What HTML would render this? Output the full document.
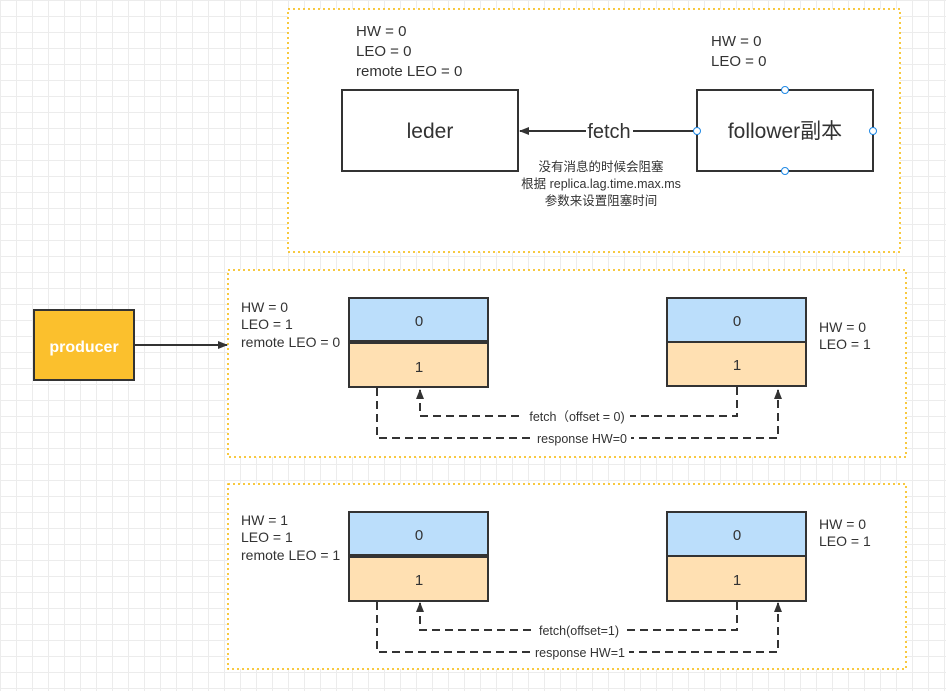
<!DOCTYPE html>
<html><head><meta charset="utf-8"><style>
html,body{margin:0;padding:0}
body{width:946px;height:691px;overflow:hidden;background-color:#fff;
background-image:linear-gradient(#ececec 1px,transparent 1px),linear-gradient(90deg,#ececec 1px,transparent 1px);
background-size:16px 16px;background-position:0 0;font-family:"Liberation Sans","Noto Sans CJK SC",sans-serif}
svg{position:absolute;left:0;top:0}
text{font-family:"Liberation Sans","Noto Sans CJK SC",sans-serif;fill:#333}
</style></head><body>
<svg width="946" height="691" viewBox="0 0 946 691">
<defs><marker id="a" markerWidth="10" markerHeight="10" refX="9" refY="5" orient="auto" markerUnits="userSpaceOnUse"><path d="M0,1 L10,5 L0,9 Z" fill="#333"/></marker></defs>
<g fill="#fff" stroke="#f5b700" stroke-width="1.5" stroke-dasharray="2,3">
<rect x="288" y="9" width="612" height="243"/>
<rect x="228" y="270" width="678" height="187"/>
<rect x="228" y="484" width="678" height="185"/>
</g>
<g font-size="15">
<text x="356" y="36">HW = 0</text><text x="356" y="56">LEO = 0</text><text x="356" y="76">remote LEO = 0</text>
<text x="711" y="46">HW = 0</text><text x="711" y="66">LEO = 0</text>
</g>
<rect x="342" y="90" width="176" height="81" fill="#fff" stroke="#333" stroke-width="2"/>
<rect x="697" y="90" width="176" height="81" fill="#fff" stroke="#333" stroke-width="2"/>
<text x="430" y="138" font-size="21" text-anchor="middle">leder</text>
<text x="785" y="138" font-size="21" text-anchor="middle">follower副本</text>
<line x1="697" y1="131" x2="520" y2="131" stroke="#333" stroke-width="2" marker-end="url(#a)"/>
<rect x="586" y="120" width="47" height="22" fill="#fff"/>
<text x="609" y="138" font-size="20" text-anchor="middle">fetch</text>
<g fill="#fff" stroke="#1e88e5"><circle cx="785" cy="90" r="3.5"/><circle cx="785" cy="171" r="3.5"/><circle cx="697" cy="131" r="3.5"/><circle cx="873" cy="131" r="3.5"/></g>
<g font-size="12.5" text-anchor="middle"><text x="601" y="171">没有消息的时候会阻塞</text><text x="601" y="188">根据 replica.lag.time.max.ms</text><text x="601" y="205">参数来设置阻塞时间</text></g>
<rect x="34" y="310" width="100" height="70" fill="#fbc02d" stroke="#333" stroke-width="2"/>
<text x="84" y="352" font-size="16" font-weight="bold" text-anchor="middle" style="fill:#fff">producer</text>
<line x1="134" y1="345" x2="227" y2="345" stroke="#333" stroke-width="2" marker-end="url(#a)"/>
<g font-size="14">
<text x="241" y="312">HW = 0</text><text x="241" y="329">LEO = 1</text><text x="241" y="347">remote LEO = 0</text>
<text x="819" y="332">HW = 0</text><text x="819" y="349">LEO = 1</text>
<text x="241" y="525">HW = 1</text><text x="241" y="542">LEO = 1</text><text x="241" y="560">remote LEO = 1</text>
<text x="819" y="529">HW = 0</text><text x="819" y="546">LEO = 1</text>
</g>
<g stroke="#333" stroke-width="2">
<rect x="349" y="298" width="139" height="44" fill="#bbdefb"/><rect x="349" y="342" width="139" height="45" fill="#ffe0b2"/>
<line x1="349" y1="342" x2="488" y2="342" stroke-width="4"/>
<rect x="667" y="298" width="139" height="44" fill="#bbdefb"/><rect x="667" y="342" width="139" height="44" fill="#ffe0b2"/>
<rect x="349" y="512" width="139" height="44" fill="#bbdefb"/><rect x="349" y="556" width="139" height="45" fill="#ffe0b2"/>
<line x1="349" y1="556" x2="488" y2="556" stroke-width="4"/>
<rect x="667" y="512" width="139" height="44" fill="#bbdefb"/><rect x="667" y="556" width="139" height="45" fill="#ffe0b2"/>
</g>
<g font-size="15" text-anchor="middle">
<text x="419" y="326">0</text><text x="419" y="372">1</text><text x="737" y="326">0</text><text x="737" y="370">1</text>
<text x="419" y="540">0</text><text x="419" y="585">1</text><text x="737" y="540">0</text><text x="737" y="585">1</text>
</g>
<g fill="none" stroke="#333" stroke-width="2" stroke-dasharray="8,5">
<path d="M737,387 V416 H420 V390" marker-end="url(#a)"/>
<path d="M377,388 V438 H778 V390" marker-end="url(#a)"/>
<path d="M737,602 V630 H420 V603" marker-end="url(#a)"/>
<path d="M377,602 V652 H778 V603" marker-end="url(#a)"/>
</g>
<g fill="#fff"><rect x="521" y="408" width="109" height="16"/><rect x="533" y="430" width="98" height="16"/>
<rect x="531" y="622" width="96" height="16"/><rect x="531" y="644" width="98" height="16"/></g>
<g font-size="12.5" text-anchor="middle">
<text x="577" y="421">fetch（offset = 0)</text><text x="582" y="443">response HW=0</text>
<text x="579" y="635">fetch(offset=1)</text><text x="580" y="657">response HW=1</text>
</g>
</svg>
</body></html>
